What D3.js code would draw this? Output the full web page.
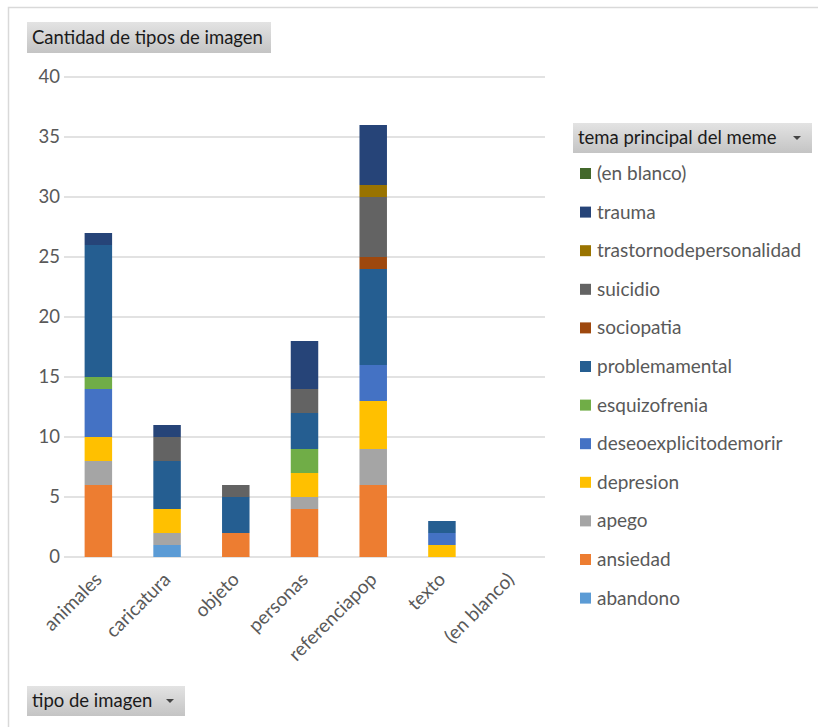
<!DOCTYPE html>
<html>
<head>
<meta charset="utf-8">
<script src="https://cdn.jsdelivr.net/npm/d3@7"></script>
<style>
  body { margin: 0; background: #fff; }
  svg text { font-family: Lato, "Open Sans", sans-serif; }
</style>
</head>
<body>
<svg id="chart" width="818" height="727"></svg>
<script>
'use strict';

/* pivot chart: tipo de imagen x tema principal del meme */

var categories = ['animales', 'caricatura', 'objeto', 'personas', 'referenciapop', 'texto', '(en blanco)'];
var temas = ['abandono', 'ansiedad', 'apego', 'depresion', 'deseoexplicitodemorir', 'esquizofrenia',
    'problemamental', 'sociopatia', 'suicidio', 'trastornodepersonalidad', 'trauma', '(en blanco)'];
var colors = ['#5B9BD5', '#ED7D31', '#A5A5A5', '#FFC000', '#4472C4', '#70AD47',
    '#255E91', '#9E480E', '#636363', '#997300', '#264478', '#43682B'];

// counts per tema, in the order of categories
var abandono      = [0, 1, 0, 0, 0, 0, 0];
var ansiedad      = [6, 0, 2, 4, 6, 0, 0];
var apego         = [2, 1, 0, 1, 3, 0, 0];
var depresion     = [2, 2, 0, 2, 4, 1, 0];
var deseo         = [4, 0, 0, 0, 3, 1, 0];
var esquizofrenia = [1, 0, 0, 2, 0, 0, 0];
var problema      = [11, 4, 3, 3, 8, 1, 0];
var sociopatia    = [0, 0, 0, 0, 1, 0, 0];
var suicidio      = [0, 2, 1, 2, 5, 0, 0];
var trastorno     = [0, 0, 0, 0, 1, 0, 0];
var trauma        = [1, 1, 0, 4, 5, 0, 0];
var enBlanco      = [0, 0, 0, 0, 0, 0, 0];

var yTicks = [0, 5, 10, 15, 20, 25, 30, 35, 40];

var series = [abandono, ansiedad, apego, depresion, deseo, esquizofrenia,
    problema, sociopatia, suicidio, trastorno, trauma, enBlanco];

var table = categories.map(function(c, i) {
    var row = { cat: c };
    temas.forEach(function(t, j) { row[t] = series[j][i]; });
    return row;
});

var svg = d3.select('#chart');
var textColor = '#595959';

// outer frame
svg.append('rect')
    .attr('x', 8.5).attr('y', 7.5)
    .attr('width', 830).attr('height', 740)
    .attr('fill', 'none').attr('stroke', '#d9d9d9').attr('stroke-width', 1.5);

var defs = svg.append('defs');
var grad = defs.append('linearGradient').attr('id', 'btn').attr('x1', 0).attr('y1', 0).attr('x2', 0).attr('y2', 1);
grad.append('stop').attr('offset', '0%').attr('stop-color', '#e3e3e3');
grad.append('stop').attr('offset', '100%').attr('stop-color', '#c4c4c4');

var button = function(x, y, w, h, label, arrow) {
    var g = svg.append('g').attr('transform', 'translate(' + x + ',' + y + ')');
    g.append('rect').attr('width', w).attr('height', h).attr('fill', 'url(#btn)');
    g.append('text').attr('x', 5).attr('y', h / 2 + 6)
        .attr('font-size', 18.5).attr('fill', '#1a1a1a').text(label);
    if (arrow) {
        g.append('path')
            .attr('d', 'M' + (w - 19) + ',' + (h / 2 - 2) + 'l8,0l-4,4z')
            .attr('fill', '#444');
    }
};

var x = d3.scaleBand().domain(categories).range([64, 545]).paddingInner(0.6).paddingOuter(0.3);
var y = d3.scaleLinear().domain([0, 40]).range([557, 77]);

// gridlines
svg.append('g')
    .selectAll('line')
    .data(yTicks)
    .join('line')
    .attr('x1', 64).attr('x2', 545)
    .attr('y1', function(d) { return y(d); })
    .attr('y2', function(d) { return y(d); })
    .attr('stroke', '#d9d9d9').attr('stroke-width', 1.5);

// y axis labels
var yAxis = d3.axisLeft(y).tickValues(yTicks).tickSize(0).tickPadding(0);
svg.append('g')
    .attr('transform', 'translate(60,0)')
    .call(yAxis)
    .call(function(g) {
        g.select('.domain').remove();
        g.selectAll('text').attr('font-size', 18.5).attr('fill', textColor)
            .attr('font-family', 'Lato, "Open Sans", sans-serif');
    });

// stacked bars
var stack = d3.stack().keys(temas)(table);
svg.append('g')
    .selectAll('g')
    .data(stack)
    .join('g')
    .attr('fill', function(d, i) { return colors[i]; })
    .selectAll('rect')
    .data(function(d) { return d; })
    .join('rect')
    .attr('x', function(d) { return x(d.data.cat); })
    .attr('width', x.bandwidth())
    .attr('y', function(d) { return y(d[1]); })
    .attr('height', function(d) { return y(d[0]) - y(d[1]); });

// x axis labels
var xAxis = d3.axisBottom(x).tickSize(0).tickPadding(0);
svg.append('g')
    .attr('transform', 'translate(0,562)')
    .call(xAxis)
    .call(function(g) {
        g.select('.domain').remove();
        g.selectAll('text')
            .attr('font-size', 19).attr('fill', textColor)
            .attr('font-family', 'Lato, "Open Sans", sans-serif')
            .attr('text-anchor', 'end')
            .attr('x', 0).attr('y', 0)
            .attr('dy', '0.35em')
            .attr('transform', 'translate(0,14) rotate(-45)');
    });

// legend (top to bottom in reverse stack order)
button(573, 123, 239, 30, 'tema principal del meme', true);
var legendItems = temas.slice().reverse();
var legend = svg.append('g')
    .selectAll('g')
    .data(legendItems)
    .join('g')
    .attr('transform', function(d, i) { return 'translate(580,' + (174 + i * 38.6) + ')'; });
legend.append('rect')
    .attr('x', 0).attr('y', -6).attr('width', 11).attr('height', 11)
    .attr('fill', function(d) { return colors[temas.indexOf(d)]; });
legend.append('text')
    .attr('x', 17).attr('y', 6)
    .attr('font-size', 19).attr('fill', textColor)
    .text(function(d) { return d; });

button(27, 22, 244, 31, 'Cantidad de tipos de imagen', false);
button(27, 686, 158, 30, 'tipo de imagen', true);
</script>
</body>
</html>
